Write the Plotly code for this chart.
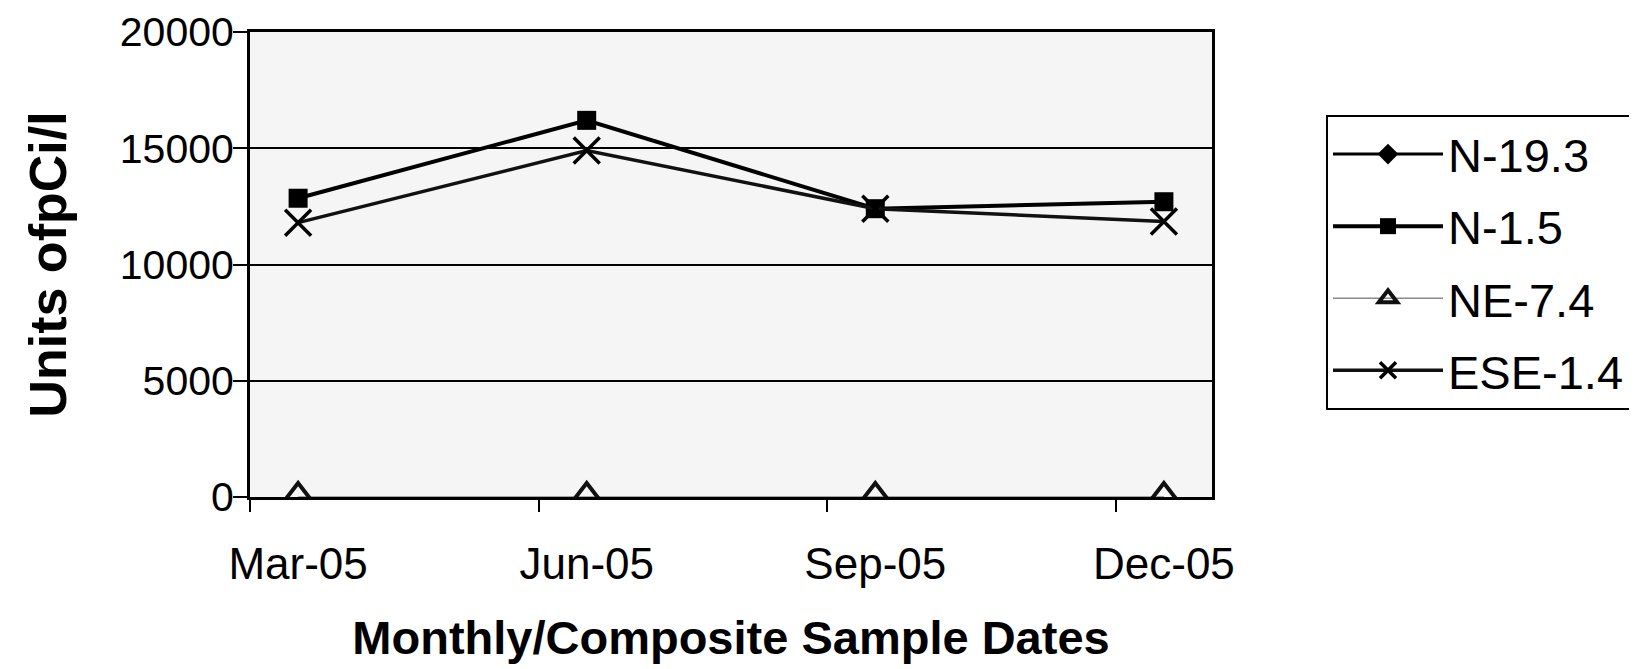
import plotly.graph_objects as go

categories = ["Mar-05", "Jun-05", "Sep-05", "Dec-05"]
n19_3 = [None, None, None, None]
n1_5 = [12850, 16200, 12400, 12700]
ne7_4 = [0, 0, 0, 0]
ese1_4 = [11800, 14900, 12400, 11850]
y_ticks = [0, 5000, 10000, 15000, 20000]
y_ticktext = ["0", "5000", "10000", "15000", "20000"]

xpos = list(range(len(categories)))
half = 1.0 / 6.0
boundaries = [i - half for i in xpos]
xrange_ = [xpos[0] - half, xpos[-1] + half]

FONT = "Liberation Sans, Arial, sans-serif"

fig = go.Figure()
fig.add_trace(go.Scatter(x=xpos, y=n19_3, name="N-19.3", mode="lines+markers",
                         line=dict(color="black", width=3),
                         marker=dict(symbol="diamond", size=20, color="black"),
                         legendgroup="a", cliponaxis=False))
fig.add_trace(go.Scatter(x=xpos, y=n1_5, name="N-1.5", mode="lines+markers",
                         line=dict(color="black", width=4),
                         marker=dict(symbol="square", size=19, color="black"),
                         legendgroup="b", cliponaxis=False))
fig.add_trace(go.Scatter(x=xpos, y=ne7_4, name="NE-7.4", mode="lines+markers",
                         line=dict(color="#8a8a8a", width=1.5),
                         marker=dict(symbol="triangle-up-open", size=28, color="#111111",
                                     line=dict(width=4, color="#111111")),
                         legendgroup="c", cliponaxis=True))
fig.add_trace(go.Scatter(x=xpos, y=ese1_4, name="ESE-1.4", mode="lines+markers",
                         line=dict(color="#111111", width=3.5),
                         marker=dict(symbol="x-thin-open", size=26, color="black",
                                     line=dict(width=3.5, color="black")),
                         legendgroup="d", cliponaxis=False))
# invisible trace on the overlay axis to host boundary tick marks
fig.add_trace(go.Scatter(x=boundaries, y=[None] * len(boundaries), xaxis="x2",
                         showlegend=False, hoverinfo="skip", mode="lines"))

fig.update_layout(
    template="none",
    width=1637, height=669,
    margin=dict(l=242, r=433, t=24, b=180, autoexpand=False),
    paper_bgcolor="white",
    plot_bgcolor="#f5f5f5",
    font=dict(family=FONT, color="black", size=44),
    showlegend=True,
    legend=dict(x=1.1185, y=0.8215, xanchor="left", yanchor="top",
                bordercolor="black", borderwidth=2, bgcolor="white",
                font=dict(family=FONT, size=47, color="black"),
                tracegroupgap=8, itemwidth=110),
    xaxis=dict(range=xrange_, tickmode="array", tickvals=xpos, ticktext=categories,
               ticks="outside", ticklen=26, tickcolor="rgba(0,0,0,0)",
               tickfont=dict(family=FONT, size=44), automargin=False,
               showgrid=False, zeroline=False,
               showline=True, linecolor="black", linewidth=3, mirror=True,
               title=dict(text="<b>Monthly/Composite Sample Dates</b>",
                          font=dict(family=FONT, size=47), standoff=35)),
    xaxis2=dict(range=xrange_, overlaying="x", side="bottom", tickmode="array",
                tickvals=boundaries, ticks="outside", ticklen=14, tickwidth=2,
                tickcolor="black", showticklabels=False, showgrid=False,
                zeroline=False, showline=False, automargin=False),
    yaxis=dict(range=[0, 20000], tickmode="array", tickvals=y_ticks,
               ticktext=y_ticktext, automargin=False, ticklabelstandoff=-9,
               ticks="outside", ticklen=14, tickwidth=2, tickcolor="black",
               tickfont=dict(family=FONT, size=41),
               showgrid=True, gridcolor="black", gridwidth=1.5,
               zeroline=False,
               showline=True, linecolor="black", linewidth=3, mirror=True,
               title=dict(text="<b>Units ofpCi/l</b>",
                          font=dict(family=FONT, size=52), standoff=37)),
)

fig.write_html("out.html")
